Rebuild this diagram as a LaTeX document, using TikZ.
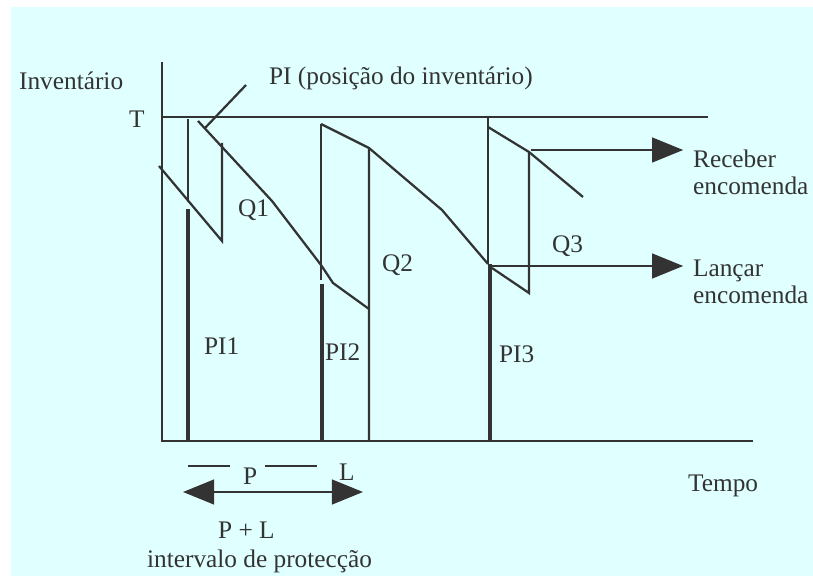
\documentclass[tikz,border=0pt]{standalone}
\usepackage{fontspec}
\setmainfont{Liberation Serif}
\usetikzlibrary{arrows.meta}
\definecolor{bgcyan}{HTML}{E0FFFF}
\definecolor{ink}{HTML}{333333}
\begin{document}
\begin{tikzpicture}[x=0.025cm,y=-0.025cm,color=ink,line width=1.6pt,
  lbl/.style={anchor=base west,inner sep=0pt,font=\fontsize{18}{20}\selectfont},
  pibar/.style={line width=3.4pt},
  bigtip/.style={-{Triangle[length=0.78cm,width=0.62cm]}}]
\useasboundingbox (0,0) rectangle (813,576);
\fill[bgcyan] (11,7) rectangle (813,576);
\node[lbl] (inv) at (18,90) {Inventário};
\node[lbl] (tlab) at (128,128) {T};
\node[lbl] (pilab) at (268,85) {PI (posição do inventário)};
\node[lbl] (q1) at (237,217) {Q1};
\node[lbl] (q2) at (381,272) {Q2};
\node[lbl] (q3) at (551,253) {Q3};
\node[lbl] (pi1) at (203,354) {PI1};
\node[lbl] (pi2) at (324,360) {PI2};
\node[lbl] (pi3) at (498,362) {PI3};
\node[lbl] (rec) at (692,168) {Receber};
\node[lbl] (rec2) at (692,195) {encomenda};
\node[lbl] (lan) at (692,277) {Lançar};
\node[lbl] (lan2) at (692,303) {encomenda};
\node[lbl] (tempo) at (687,491) {Tempo};
\node[lbl] (plab) at (242,484) {P};
\node[lbl] (llab) at (338,480) {L};
\node[lbl] (pl) at (217,538) {P + L};
\node[lbl] (interv) at (146,567) {intervalo de protecção};
\coordinate (origin) at (162,441);
\coordinate (rcv) at (531,150);
\coordinate (lnc) at (490,266);
\draw (162,62) -- (origin) -- (753,441);
\draw (162,117) -- (708,117);
\draw (246,85) -- (205,128);
\draw (159,166) -- (222,241) -- (222,143);
\draw (188,119) -- (188,202);
\draw[pibar] (188,209) -- (188,441);
\draw (198,121) -- (272,201) -- (321,265) -- (333,283) -- (369,309);
\draw (321,124) -- (321,280);
\draw[pibar] (322,284) -- (322,441);
\draw (321,124) -- (369,148) -- (369,441);
\draw (369,148) -- (442,210) -- (488,264);
\draw (488,117) -- (488,264);
\draw[pibar] (490,264) -- (490,441);
\draw (488,127) -- (529,152) -- (583,197);
\draw (529,152) -- (529,293) -- (492,268);
\draw[bigtip,shorten >=0.22cm] (rcv) -- (rcv -| rec.west);
\draw[bigtip,shorten >=0.22cm] (lnc) -- (lnc -| lan.west);
\draw (188,466) -- (230,466);
\draw (265,466) -- (317,466);
\draw[{Triangle[length=0.78cm,width=0.62cm]}-{Triangle[length=0.78cm,width=0.62cm]}] (183,492) -- (363,492);
\end{tikzpicture}
\end{document}
